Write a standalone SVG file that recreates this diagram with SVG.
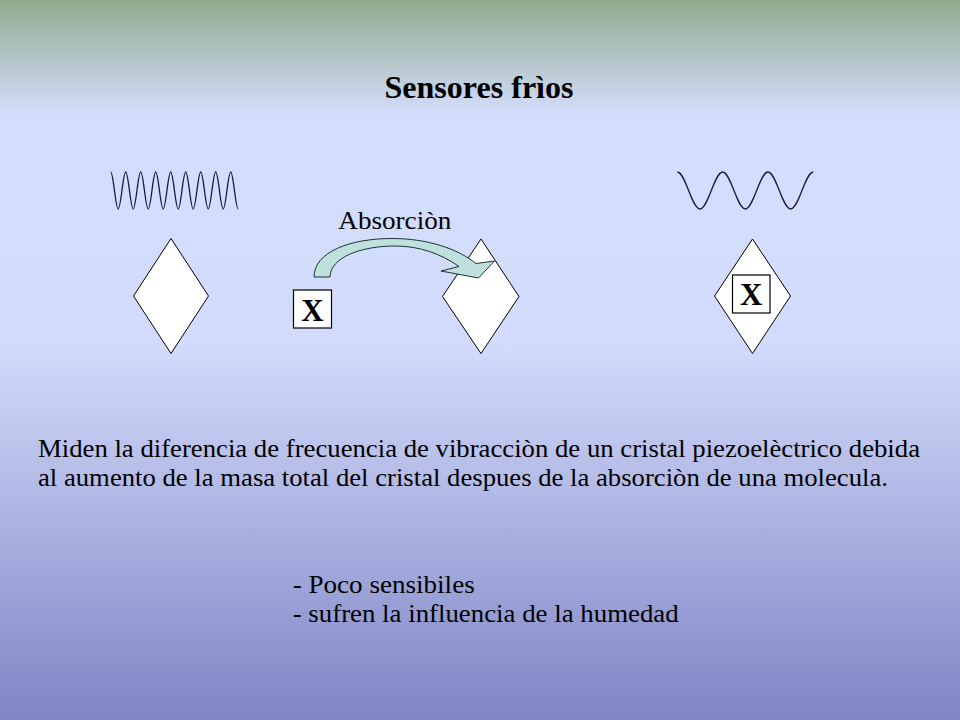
<svg xmlns="http://www.w3.org/2000/svg" width="960" height="720" viewBox="0 0 960 720">
<defs>
<linearGradient id="bg" x1="0" y1="0" x2="0" y2="1">
<stop offset="0" stop-color="#93aa90"/>
<stop offset="0.16" stop-color="#d3defc"/>
<stop offset="0.48" stop-color="#d2dbfb"/>
<stop offset="1" stop-color="#7f85c5"/>
</linearGradient>
<style>
text{font-family:'Liberation Serif',serif;fill:#000}
.b{font-weight:bold}
.wave{fill:none;stroke:#1a1a38;stroke-width:1.3}
.dia{fill:#fff;stroke:#000;stroke-width:1}
.box{fill:#fff;stroke:#000;stroke-width:1.2}
</style>
</defs>
<rect x="0" y="0" width="960" height="720" fill="url(#bg)"/>
<text class="b" font-family="Liberation Serif, serif" x="384.5" y="98" font-size="31" textLength="189" lengthAdjust="spacingAndGlyphs">Sensores frìos</text>

<g id="wave-high">
<path class="wave" d="M110.7,172 c2.72,0 4.78,37 7.5,37 s4.78,-37 7.5,-37 s4.78,37 7.5,37 s4.78,-37 7.5,-37 s4.78,37 7.5,37 s4.78,-37 7.5,-37 s4.78,37 7.5,37 s4.78,-37 7.5,-37 s4.78,37 7.5,37 s4.78,-37 7.5,-37 s4.78,37 7.5,37 s4.78,-37 7.5,-37 s4.78,37 7.5,37 s4.78,-37 7.5,-37 s4.78,37 7.5,37 s4.78,-37 7.5,-37 s4.78,37 7.5,37"/>
</g>
<g id="wave-low">
<path class="wave" d="M677.3,172 c8.23,0 14.44,37 22.67,37 s14.44,-37 22.67,-37 s14.44,37 22.67,37 s14.44,-37 22.67,-37 s14.44,37 22.67,37 s14.44,-37 22.67,-37"/>
</g>

<g id="crystal-left">
<polygon class="dia" points="171,238.5 208.5,296 171,353.5 133.5,296"/>
</g>
<g id="molecule-x">
<rect class="box" x="293.5" y="290" width="38" height="38"/>
<text class="b" font-family="Liberation Serif, serif" x="312.5" y="320.5" font-size="31" text-anchor="middle">X</text>
</g>
<g id="crystal-middle">
<polygon class="dia" points="481,239 519,296.5 481,353.5 442.5,296.5"/>
</g>
<g id="crystal-right">
<polygon class="dia" points="752.5,239 790.5,296 752.5,353.5 714.5,296"/>
<rect class="box" x="732.5" y="275" width="37.5" height="38"/>
<text class="b" font-family="Liberation Serif, serif" x="751.3" y="305" font-size="31" text-anchor="middle">X</text>
</g>

<g id="connectors">
<path d="M314,277 C314,252 350,238.5 392,238.5 C428,238.5 458,249 476,263.5 L494.5,261 L478.5,278 L441,271 L459,266.5 C441,254 420,246 395,246 C360,246 330,258 330,277 Z" fill="#bfe0dc" stroke="#1c3434" stroke-width="1"/>
<text font-family="Liberation Serif, serif" x="338.3" y="228.5" font-size="25" textLength="113" lengthAdjust="spacingAndGlyphs">Absorciòn</text>
</g>

<text font-family="Liberation Serif, serif" x="38" y="457" font-size="25" textLength="882" lengthAdjust="spacingAndGlyphs">Miden la diferencia de frecuencia de vibracciòn de un cristal piezoelèctrico debida</text>
<text font-family="Liberation Serif, serif" x="38" y="486" font-size="25" textLength="850" lengthAdjust="spacingAndGlyphs">al aumento de la masa total del cristal despues de la absorciòn de una molecula.</text>
<text font-family="Liberation Serif, serif" x="292.7" y="592.5" font-size="25" textLength="182" lengthAdjust="spacingAndGlyphs">- Poco sensibiles</text>
<text font-family="Liberation Serif, serif" x="292.7" y="622" font-size="25" textLength="386" lengthAdjust="spacingAndGlyphs">- sufren la influencia de la humedad</text>
</svg>
